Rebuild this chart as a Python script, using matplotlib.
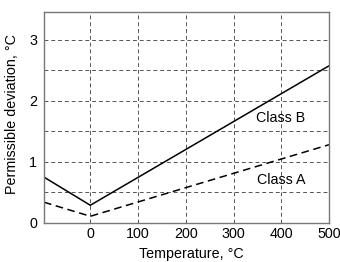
import matplotlib
matplotlib.use("Agg")
import matplotlib.pyplot as plt

plt.rcParams['font.family'] = ['Liberation Sans', 'DejaVu Sans']

# data
temp = [-97, 0, 500]
class_b = [0.75, 0.29, 2.57]
class_a = [0.34, 0.11, 1.28]

x_ticks = [0, 100, 200, 300, 400, 500]
y_ticks = [0, 1, 2, 3]

fs = 10.3

fig = plt.figure(figsize=(3.4, 2.62), dpi=100)
ax = fig.add_axes([44/340, 1 - 223/262, (329-44)/340, (223-12)/262])

ax.plot(temp, class_b, 'k-', lw=1.1)
ax.plot(temp, class_a, 'k--', lw=1.1, dashes=(5, 3))

ax.text(399, 1.71, 'Class B', ha='center', va='center', fontsize=fs)
ax.text(399, 0.71, 'Class A', ha='center', va='center', fontsize=fs)

ax.set_xlim(-97, 500)
ax.set_ylim(0, 3.45)
ax.set_xticks(x_ticks)
ax.set_yticks(y_ticks)
ax.set_yticks([0.5, 1.5, 2.5], minor=True)
ax.tick_params(axis='x', which='both', length=0, labelsize=fs, pad=3)
ax.tick_params(axis='y', which='both', length=0, labelsize=fs, pad=5)
ax.grid(True, which='both', linestyle=(0, (4, 3)), color='#555555', lw=0.7)

for s in ax.spines.values():
    s.set_color('#777777')
    s.set_linewidth(1)

ax.set_xlabel('Temperature, °C', fontsize=fs, va='center')
ax.xaxis.set_label_coords(0.516, (223 - 254) / 211)
ax.set_ylabel('Permissible deviation, °C', fontsize=fs, va='center')
ax.yaxis.set_label_coords((12.5 - 44) / 285, (223 - 114) / 211)

fig.savefig('out.png', dpi=100)
